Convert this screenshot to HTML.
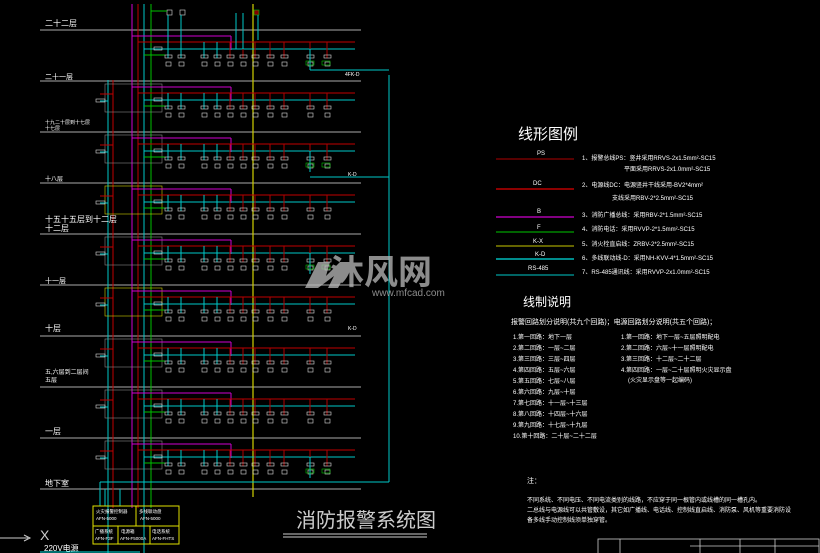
<!DOCTYPE html>
<html><head><meta charset="utf-8"><style>
html,body{margin:0;padding:0;background:#000;width:820px;height:553px;overflow:hidden}
svg{display:block}
text{font-family:"Liberation Sans","Noto Sans CJK SC",sans-serif;fill:#fff}
</style></head><body>
<svg id="s" width="820" height="553" viewBox="0 0 820 553" xmlns="http://www.w3.org/2000/svg">
<g id="g"></g>
<g font-size="7">
<text x="45" y="26" font-size="8">二十二层</text>
<text x="45" y="79">二十一层</text>
<text x="45" y="124" font-size="5">十九二十层到十七层</text>
<text x="45" y="130" font-size="5">十七层</text>
<text x="45" y="181" font-size="6">十八层</text>
<text x="45" y="222" font-size="8">十五十五层到十二层</text>
<text x="45" y="231" font-size="8">十二层</text>
<text x="45" y="283" font-size="7">十一层</text>
<text x="45" y="331" font-size="8">十层</text>
<text x="45" y="374" font-size="6">五,六层到二层间</text>
<text x="45" y="382" font-size="6">五层</text>
<text x="45" y="434" font-size="8">一层</text>
<text x="45" y="486" font-size="8">地下室</text>
</g>
<text x="518" y="139" font-size="15">线形图例</text>
<g font-size="6">
<text x="537" y="155">PS</text><line x1="496" y1="159" x2="574" y2="159" stroke="#8b0000" stroke-width="1.2"/>
<text x="533" y="185">DC</text><line x1="496" y1="189" x2="574" y2="189" stroke="#e00000" stroke-width="1.2"/>
<text x="537" y="213">B</text><line x1="496" y1="217" x2="574" y2="217" stroke="#d000d0" stroke-width="1.2"/>
<text x="537" y="229">F</text><line x1="496" y1="232" x2="574" y2="232" stroke="#00a000" stroke-width="1.2"/>
<text x="533" y="243">K-X</text><line x1="496" y1="246" x2="574" y2="246" stroke="#a0a000" stroke-width="1.2"/>
<text x="535" y="256">K-D</text><line x1="496" y1="259" x2="574" y2="259" stroke="#00e0e0" stroke-width="1.2"/>
<text x="528" y="270">RS-485</text><line x1="496" y1="275" x2="574" y2="275" stroke="#00a0a0" stroke-width="1.2"/>
<text x="582" y="160">1、报警总线PS：竖井采用RRVS-2x1.5mm²-SC15</text>
<text x="624" y="171">平面采用RRVS-2x1.0mm²-SC15</text>
<text x="582" y="187">2、电源线DC：电源竖井干线采用-BV2*4mm²</text>
<text x="612" y="200">支线采用RBV-2*2.5mm²-SC15</text>
<text x="582" y="217">3、消防广播总线：采用RBV-2*1.5mm²-SC15</text>
<text x="582" y="231">4、消防电话：采用RVVP-2*1.5mm²-SC15</text>
<text x="582" y="246">5、消火栓直启线：ZRBV-2*2.5mm²-SC15</text>
<text x="582" y="260">6、多线联动线-D：采用NH-KVV-4*1.5mm²-SC15</text>
<text x="582" y="274">7、RS-485通讯线：采用RVVP-2x1.0mm²-SC15</text>
</g>
<text x="523" y="306" font-size="12">线制说明</text>
<g font-size="6">
<text x="511" y="324" font-size="7">报警回路划分说明(共九个回路)；电源回路划分说明(共五个回路)；</text>
<text x="513" y="339">1.第一回路：地下一层</text>
<text x="513" y="350">2.第二回路：一层~二层</text>
<text x="513" y="361">3.第三回路：三层~四层</text>
<text x="513" y="372">4.第四回路：五层~六层</text>
<text x="513" y="383">5.第五回路：七层~八层</text>
<text x="513" y="394">6.第六回路：九层~十层</text>
<text x="513" y="405">7.第七回路：十一层~十三层</text>
<text x="513" y="416">8.第八回路：十四层~十六层</text>
<text x="513" y="427">9.第九回路：十七层~十九层</text>
<text x="513" y="438">10.第十回路：二十层~二十二层</text>
<text x="621" y="339">1.第一回路：地下一层~五层照明配电</text>
<text x="621" y="350">2.第二回路：六层~十一层照明配电</text>
<text x="621" y="361">3.第三回路：十二层~二十二层</text>
<text x="621" y="372">4.第四回路：一层~二十层照明火灾显示盘</text>
<text x="628" y="382">(火灾显示盘等一起编码)</text>
<text x="527" y="483" font-size="7">注：</text>
<text x="527" y="502">不同系统、不同电压、不同电流类别的线路，不应穿于同一根管内或线槽的同一槽孔内。</text>
<text x="527" y="512">二总线与电源线可以共管敷设，其它如广播线、电话线、控制线直启线、消防泵、风机等重要消防设</text>
<text x="527" y="522">备多线手动控制线须单独穿管。</text>
</g>
<g opacity="0.75">
<text x="330" y="284" font-size="34" font-weight="bold" style="fill:#bbb">沐风网</text>
<text x="372" y="296" font-size="10" style="fill:#bbb">www.mfcad.com</text>
<path d="M305 288 L318 262 L330 262 L326 276 L340 262 L352 262 L338 288 L328 288 L334 276 L318 288 Z" fill="#bbb"/>
</g>
<text x="296" y="527" font-size="20" style="fill:#ccc">消防报警系统图</text>
<line x1="283" y1="534" x2="427" y2="534" stroke="#ccc"/>
<line x1="283" y1="537" x2="427" y2="537" stroke="#ccc"/>
<g stroke="#ccc" fill="none" stroke-width="0.8">
<rect x="598" y="539" width="221" height="16"/>
<line x1="620" y1="539" x2="620" y2="553"/>
<line x1="700" y1="539" x2="700" y2="553"/><line x1="740" y1="539" x2="740" y2="553"/>
<line x1="775" y1="539" x2="775" y2="553"/>
<line x1="690" y1="546" x2="819" y2="546"/>
</g>
<g stroke="#e0e000" fill="none" stroke-width="1">
<rect x="93" y="506" width="86" height="20"/><line x1="136" y1="506" x2="136" y2="526"/>
<rect x="93" y="526" width="86" height="18"/><line x1="118" y1="526" x2="118" y2="544"/><line x1="150" y1="526" x2="150" y2="544"/>
</g>
<g font-size="4.5">
<text x="96" y="513">火灾报警控制器</text><text x="96" y="520">AFN-5000</text>
<text x="139" y="513">多线联动盘</text><text x="140" y="520">AFN-5000</text>
<text x="95" y="533">广播系统</text><text x="95" y="540">AFN-F3F</text>
<text x="121" y="533">电源箱</text><text x="120" y="540">AFN-F5000A</text>
<text x="152" y="533">电话系统</text><text x="152" y="540">AFN-FHTS</text>
</g>
<text x="44" y="551" font-size="8">220V电源</text>
<text x="40" y="540" font-size="14" style="fill:#ccc">X</text>
<line x1="0" y1="538" x2="28" y2="538" stroke="#ccc"/><path d="M24 535 L30 538 L24 541" stroke="#ccc" fill="none"/>
<line x1="40" y1="552" x2="140" y2="552" stroke="#00e0e0"/>
<text x="345" y="76" font-size="5">4FK-D</text>
<text x="348" y="176" font-size="5">K-D</text>
<text x="348" y="330" font-size="5">K-D</text>
</svg>
<script>
const g=document.getElementById('g');
function L(x1,y1,x2,y2,c,w){g.insertAdjacentHTML('beforeend',`<line x1="${x1}" y1="${y1}" x2="${x2}" y2="${y2}" stroke="${c}" stroke-width="${w||1}"/>`);}
function R(x,y,w,h,c,f){g.insertAdjacentHTML('beforeend',`<rect x="${x}" y="${y}" width="${w}" height="${h}" stroke="${c}" fill="${f||'none'}" stroke-width="0.6"/>`);}
const C='#00c8c8',RD='#c00000',DR='#b00000',M='#d000d0',G='#00c000',Y='#d0d000',GR='#888',W='#ddd';
for(let i=0;i<10;i++){L(40,30+51*i,361,30+51*i,GR,1.2);}
L(108,80,108,553,C);L(113,80,113,508,RD);
L(132,4,132,508,M);L(138,4,138,508,RD);L(144,4,144,553,C);L(151,4,151,508,G);
L(253,4,253,497,Y,1.2);
L(389,75,389,482,C);
for(let i=0;i<10;i++){
 const s=30+51*i;
 if(i<9){
 if(i>0){R(105,s+3,57,28,(i==3||i==5)?Y:GR);
   L(100,s+20,108,s+20,C);L(100,s+13,113,s+13,RD);R(96,s+18,9,3,W);}
 L(132,s+6,231,s+6,M);L(231,s+6,231,s+20,M);
 L(138,s+12,355,s+12,RD);L(144,s+19,355,s+19,C);
 L(144,s+25,165,s+25,G);
 R(154,s+17,8,3,W);
 const xs=[168,181,204,217,230,243,255,270,284,310,327];
 for(const x of xs){L(x,s+12,x,s+28,x<230?C:DR);R(x-3,s+25,7,3,W);R(x-2,s+32,5,4,W);}
 if(i==0||i==2||i==4||i==8){L(310,s+19,310,s+40,C);R(306,s+31,8,4,G);R(322,s+31,8,4,G);}
 }
}
R(167,10,5,5,W);R(180,10,5,5,W);L(151,11,167,11,G);L(168,15,168,48,C);L(181,15,181,48,C);
R(254,10,5,5,G,'#800');L(258,15,258,40,C);L(236,13,236,49,C);L(243,13,243,49,C);
L(310,70,389,70,C);L(310,177,389,177,C);L(310,482,389,482,C);
L(100,482,389,482,C);L(100,482,100,490,C);
for(const x of [100,105,113,120,132,138,144,151]){L(x,489,x,506,x==132?M:x==151?G:x==138||x==113?RD:C);}
</script>
</body></html>
